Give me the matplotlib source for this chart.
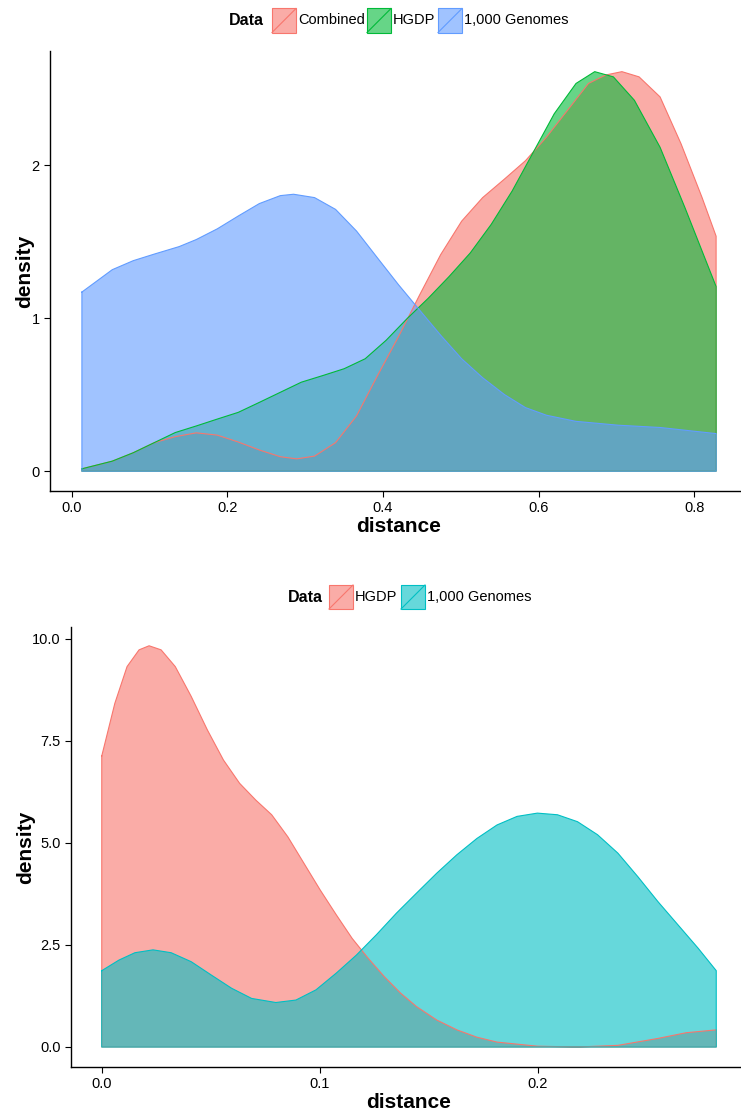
import matplotlib
matplotlib.use('Agg')
import matplotlib.pyplot as plt
from matplotlib.patches import Rectangle
from matplotlib.lines import Line2D

plt.rcParams['font.family'] = ['Liberation Sans', 'DejaVu Sans']

# ---- top panel: density of distance ----
top_labels = ['Combined', 'HGDP', '1,000 Genomes']
top_colors = ['#F8766D', '#00BA38', '#619CFF']

comb_x = [0.013, 0.052, 0.079, 0.106, 0.133, 0.160, 0.187, 0.214, 0.241, 0.268, 0.289,
          0.312, 0.339, 0.366, 0.393, 0.420, 0.447, 0.474, 0.501, 0.528, 0.556, 0.583,
          0.610, 0.637, 0.664, 0.686, 0.707, 0.729, 0.756, 0.783, 0.810, 0.828]
comb_y = [0.015, 0.065, 0.120, 0.186, 0.225, 0.250, 0.235, 0.190, 0.138, 0.094, 0.080,
          0.098, 0.186, 0.361, 0.625, 0.880, 1.151, 1.414, 1.633, 1.787, 1.908, 2.028,
          2.182, 2.357, 2.533, 2.588, 2.610, 2.576, 2.445, 2.138, 1.787, 1.535]

hgdp_x = [0.013, 0.052, 0.079, 0.106, 0.133, 0.160, 0.187, 0.214, 0.241, 0.268, 0.295,
          0.323, 0.350, 0.377, 0.404, 0.431, 0.458, 0.485, 0.512, 0.539, 0.566, 0.593,
          0.620, 0.648, 0.672, 0.696, 0.723, 0.756, 0.788, 0.828]
hgdp_y = [0.015, 0.065, 0.120, 0.186, 0.252, 0.295, 0.340, 0.384, 0.449, 0.515, 0.581,
          0.625, 0.669, 0.734, 0.855, 0.997, 1.129, 1.272, 1.425, 1.612, 1.831, 2.083,
          2.335, 2.533, 2.610, 2.576, 2.423, 2.116, 1.721, 1.206]

g1k_x = [0.013, 0.052, 0.079, 0.106, 0.138, 0.160, 0.187, 0.214, 0.241, 0.268, 0.285,
         0.312, 0.339, 0.366, 0.393, 0.420, 0.447, 0.474, 0.501, 0.528, 0.556, 0.583,
         0.610, 0.648, 0.702, 0.756, 0.828]
g1k_y = [1.170, 1.316, 1.375, 1.418, 1.467, 1.513, 1.583, 1.667, 1.748, 1.800, 1.809,
         1.787, 1.710, 1.568, 1.392, 1.217, 1.052, 0.888, 0.734, 0.610, 0.500, 0.415,
         0.365, 0.325, 0.300, 0.285, 0.245]

# ---- bottom panel ----
bot_labels = ['HGDP', '1,000 Genomes']
bot_colors = ['#F8766D', '#00BFC4']

b_hgdp_x = [0.0, 0.0060, 0.0116, 0.0171, 0.0217, 0.0272, 0.0337, 0.0410, 0.0484, 0.0558,
            0.0632, 0.0706, 0.0779, 0.0853, 0.0927, 0.1001, 0.1075, 0.1148, 0.1222,
            0.1296, 0.1370, 0.1443, 0.1536, 0.1628, 0.1720, 0.1812, 0.1997, 0.2181,
            0.2366, 0.2550, 0.2679, 0.2817]
b_hgdp_y = [7.13, 8.42, 9.32, 9.73, 9.83, 9.73, 9.32, 8.59, 7.77, 7.03, 6.46, 6.05, 5.69,
            5.15, 4.50, 3.85, 3.24, 2.66, 2.17, 1.72, 1.32, 0.99, 0.66, 0.42, 0.24, 0.12,
            0.02, 0.00, 0.04, 0.21, 0.35, 0.42]

b_g1k_x = [0.0, 0.0079, 0.0152, 0.0235, 0.0318, 0.0410, 0.0503, 0.0595, 0.0687, 0.0798,
           0.0890, 0.0982, 0.1075, 0.1167, 0.1259, 0.1351, 0.1443, 0.1536, 0.1628,
           0.1720, 0.1812, 0.1904, 0.1997, 0.2089, 0.2181, 0.2273, 0.2366, 0.2458,
           0.2550, 0.2642, 0.2734, 0.2817]
b_g1k_y = [1.87, 2.13, 2.31, 2.38, 2.31, 2.09, 1.76, 1.44, 1.19, 1.09, 1.15, 1.40, 1.81,
           2.25, 2.75, 3.28, 3.77, 4.26, 4.71, 5.11, 5.44, 5.65, 5.73, 5.69, 5.52, 5.20,
           4.75, 4.17, 3.56, 2.99, 2.42, 1.87]

W, H = 741, 1114
fig = plt.figure(figsize=(W / 100, H / 100), dpi=100)


def px_axes(left, top, right, bottom):
    return fig.add_axes([left / W, 1 - bottom / H, (right - left) / W, (bottom - top) / H])


def style(ax):
    for s in ['top', 'right']:
        ax.spines[s].set_visible(False)
    for s in ['left', 'bottom']:
        ax.spines[s].set_linewidth(1.0)
    ax.tick_params(direction='out', length=4, width=0.8, labelsize=10.5, colors='black')
    ax.set_xlabel('distance', fontsize=15, fontweight='bold', labelpad=1)
    ax.set_ylabel('density', fontsize=15, fontweight='bold', labelpad=-2)


def density(ax, xs, ys, color):
    ax.fill_between(xs, 0, ys, facecolor=color, alpha=0.6, edgecolor='none')
    ax.plot(xs + [xs[-1], xs[0], xs[0]], ys + [0, 0, ys[0]], color=color, lw=0.8)


ax1 = px_axes(50, 51, 748, 491)
for xs, ys, c in [(comb_x, comb_y, top_colors[0]), (hgdp_x, hgdp_y, top_colors[1]),
                  (g1k_x, g1k_y, top_colors[2])]:
    density(ax1, xs, ys, c)
ax1.set_xlim(-0.028, 0.869)
ax1.set_ylim(-0.13, 2.745)
ax1.set_xticks([0.0, 0.2, 0.4, 0.6, 0.8])
ax1.set_xticklabels(['0.0', '0.2', '0.4', '0.6', '0.8'])
ax1.set_yticks([0, 1, 2])
style(ax1)

ax2 = px_axes(71, 627, 747, 1067)
for xs, ys, c in [(b_hgdp_x, b_hgdp_y, bot_colors[0]), (b_g1k_x, b_g1k_y, bot_colors[1])]:
    density(ax2, xs, ys, c)
ax2.set_xlim(-0.0141, 0.2958)
ax2.set_ylim(-0.49, 10.29)
ax2.set_xticks([0.0, 0.1, 0.2])
ax2.set_xticklabels(['0.0', '0.1', '0.2'])
ax2.set_yticks([0.0, 2.5, 5.0, 7.5, 10.0])
ax2.set_yticklabels(['0.0', '2.5', '5.0', '7.5', '10.0'])
style(ax2)


def draw_legend(yc, data_x, key_xs, texts, colors, size=24):
    fig.text(data_x / W, 1 - yc / H, 'Data', fontsize=11.5, fontweight='bold',
             ha='left', va='center')
    for kx, txt, c in zip(key_xs, texts, colors):
        x0, y0 = kx / W, 1 - (yc + size / 2) / H
        w, h = size / W, size / H
        fig.patches.append(Rectangle((x0, y0), w, h, transform=fig.transFigure,
                                     facecolor=c, alpha=0.6, edgecolor='none'))
        fig.patches.append(Rectangle((x0, y0), w, h, transform=fig.transFigure,
                                     facecolor='none', edgecolor=c, lw=0.8))
        fig.lines.append(Line2D([x0, x0 + w], [y0, y0 + h], transform=fig.transFigure,
                                color=c, lw=0.8))
        fig.text((kx + size + 2) / W, 1 - yc / H, txt, fontsize=10.5, ha='left', va='center')


draw_legend(20.5, 229, [272, 367, 438], top_labels, top_colors)
draw_legend(597, 288, [329, 401], bot_labels, bot_colors)

fig.savefig('out.png', dpi=100)
